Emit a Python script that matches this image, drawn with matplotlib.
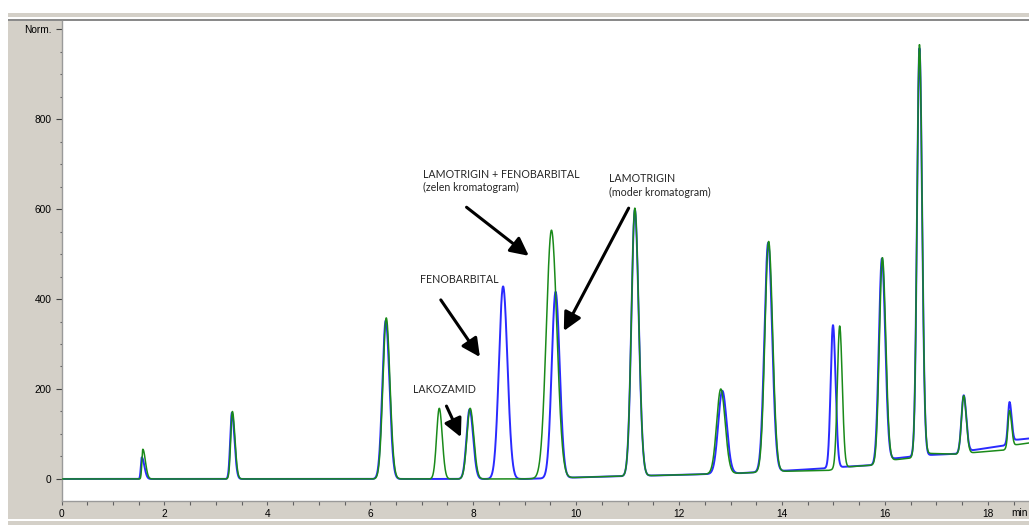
import numpy as np
import matplotlib
matplotlib.use("Agg")
import matplotlib.pyplot as plt
from matplotlib.patches import Rectangle
from matplotlib.ticker import MultipleLocator, FixedLocator, FixedFormatter

# ---------------- data ----------------
# blue chromatogram ("moder kromatogram"): retention time (min), apex (Norm.), left/right widths
BLUE_T = [1.56, 3.31, 6.30, 7.93, 8.58, 9.60, 11.14, 12.84, 13.73, 14.99, 15.94, 16.67, 17.53, 18.42]
BLUE_H = [48, 147, 352, 155, 428, 416, 598, 196, 525, 342, 490, 958, 186, 171]
BLUE_SL = [0.018, 0.032, 0.065, 0.060, 0.080, 0.075, 0.066, 0.080, 0.072, 0.045, 0.058, 0.047, 0.044, 0.030]
BLUE_SR = [0.050, 0.050, 0.072, 0.068, 0.085, 0.080, 0.075, 0.085, 0.078, 0.050, 0.065, 0.052, 0.050, 0.040]
# baseline of blue trace (time, level)
BLUE_BASE_T = [0.0, 9.0, 10.5, 12.0, 13.2, 14.0, 14.9, 15.2, 15.8, 16.05, 16.55, 16.8, 17.4, 17.65, 18.3, 18.55, 18.8]
BLUE_BASE_V = [0, 0, 5, 9, 13, 18, 24, 27, 31, 44, 50, 53, 56, 63, 74, 87, 90]

# green chromatogram ("zelen kromatogram")
GREEN_T = [1.58, 3.32, 6.31, 7.34, 7.94, 9.52, 11.14, 12.81, 13.74, 15.12, 15.95, 16.67, 17.53, 18.42]
GREEN_H = [66, 150, 358, 157, 157, 553, 602, 200, 528, 340, 492, 966, 185, 152]
GREEN_SL = [0.018, 0.032, 0.065, 0.052, 0.062, 0.100, 0.066, 0.080, 0.072, 0.045, 0.058, 0.047, 0.044, 0.030]
GREEN_SR = [0.050, 0.050, 0.072, 0.058, 0.070, 0.105, 0.075, 0.085, 0.078, 0.050, 0.065, 0.052, 0.050, 0.040]
GREEN_BASE_T = [0.0, 9.0, 10.5, 12.0, 13.2, 14.0, 14.9, 15.3, 15.8, 16.05, 16.55, 16.8, 17.4, 17.65, 18.3, 18.55, 18.8]
GREEN_BASE_V = [0, 0, 5, 9, 13, 17, 19, 27, 31, 41, 47, 57, 55, 58, 64, 76, 80]

X_TICKS = [0, 2, 4, 6, 8, 10, 12, 14, 16, 18]
Y_TICKS = [0, 200, 400, 600, 800, 1000]
Y_LABELS = ["0", "200", "400", "600", "800", "Norm."]

ANNOT_TEXT = [
    ("LAMOTRIGIN + FENOBARBITAL", 7.02, 676),
    ("(zelen kromatogram)", 7.02, 647),
    ("LAMOTRIGIN", 10.63, 667),
    ("(moder kromatogram)", 10.63, 636),
    ("FENOBARBITAL", 6.96, 444),
    ("LAKOZAMID", 6.82, 198),
]
# arrows: (start t, start h, tip t, tip h)
ARROWS = [
    (7.87, 604, 9.08, 496),
    (11.02, 602, 9.76, 329),
    (7.37, 398, 8.13, 271),
    (7.48, 162, 7.76, 93),
]

# ---------------- build traces ----------------
t = np.arange(0.0, 18.81, 0.004)


def trace(T, H, SL, SR, BT, BV):
    base = np.interp(t, BT, BV)
    y = base.copy()
    for t0, h, sl, sr in zip(T, H, SL, SR):
        amp = h - np.interp(t0, BT, BV)
        s = np.where(t < t0, sl, sr)
        y += amp * np.exp(-0.5 * ((t - t0) / s) ** 2)
    return y


blue = trace(BLUE_T, BLUE_H, BLUE_SL, BLUE_SR, BLUE_BASE_T, BLUE_BASE_V)
green = trace(GREEN_T, GREEN_H, GREEN_SL, GREEN_SR, GREEN_BASE_T, GREEN_BASE_V)

# ---------------- figure ----------------
W, H = 1029, 525
fig = plt.figure(figsize=(W / 100, H / 100), dpi=100, facecolor="white")
GREY = "#d4d0c8"


def frect(x0, y0, x1, y1, color):
    fig.patches.append(Rectangle((x0 / W, 1 - y1 / H), (x1 - x0) / W, (y1 - y0) / H,
                                 transform=fig.transFigure, facecolor=color,
                                 edgecolor="none", zorder=-10))


frect(8, 21, W, 519, GREY)
frect(8, 13, W, 17, GREY)
frect(8, 19, W, 21, "#8a8a8a")
frect(8, 521, W, H, GREY)

ax = fig.add_axes([61.5 / W, 1 - 501 / H, (W - 61.5) / W, (501 - 21) / H])
ax.set_facecolor("white")
ax.plot(t, blue, color="#2a2aff", lw=1.4, zorder=2)
ax.plot(t, green, color="#1a8a1a", lw=1.1, zorder=3)

ax.set_xlim(0, (W - 62) / 51.44)
ax.set_ylim(-49, 1018)

for s in ["top", "right"]:
    ax.spines[s].set_visible(False)
for s in ["left", "bottom"]:
    ax.spines[s].set_color("#9a9a9a")
    ax.spines[s].set_linewidth(1.0)

ax.xaxis.set_major_locator(FixedLocator(X_TICKS))
ax.xaxis.set_minor_locator(MultipleLocator(0.5))
ax.yaxis.set_major_locator(FixedLocator(Y_TICKS))
ax.yaxis.set_major_formatter(FixedFormatter(Y_LABELS))
ax.yaxis.set_minor_locator(MultipleLocator(50))

ax.tick_params(axis="y", which="major", length=4.3, width=0.8, color="#404040",
               pad=3, labelsize=7.3, direction="out")
ax.tick_params(axis="y", which="minor", length=1.8, width=0.8, color="#606060", direction="out")
ax.tick_params(axis="x", which="both", length=2.6, width=0.8, color="#606060",
               pad=3, labelsize=7.3, direction="out")
for lab in ax.get_xticklabels() + ax.get_yticklabels():
    lab.set_fontfamily("Liberation Sans")

# unit label at the right end of the time axis
fig.text(1028 / W, 1 - 513 / H, "min", fontfamily="Liberation Sans", fontsize=7.3,
         ha="right", va="center")

for txt, x, y in ANNOT_TEXT:
    ax.text(x, y, txt, fontfamily="Lato", fontsize=7.7, color="#262626",
            ha="left", va="center", zorder=5)

for x0, y0, x1, y1 in ARROWS:
    ax.annotate("", xy=(x1, y1), xytext=(x0, y0),
                arrowprops=dict(arrowstyle="-|>,head_length=1.1,head_width=0.55",
                                lw=2.2, color="black", shrinkA=0, shrinkB=0,
                                mutation_scale=10), zorder=6)

fig.savefig("out.png", dpi=100, facecolor="white")
